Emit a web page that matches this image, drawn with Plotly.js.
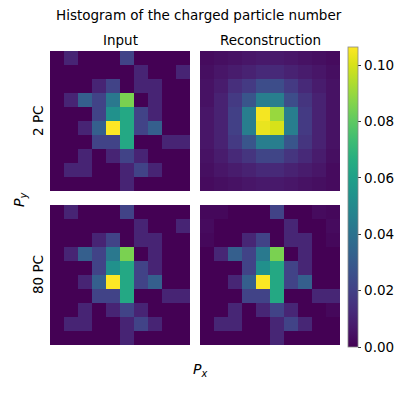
<!DOCTYPE html>
<html>
<head>
<meta charset="utf-8">
<script src="https://cdn.plot.ly/plotly-3.0.1.min.js"></script>
<style>html,body{margin:0;padding:0;background:#fff;}#plot{width:399px;height:399px;}</style>
</head>
<body>
<div id="plot"></div>
<script>
// counts (normalised by total 94)
var unit = 1 / 94;
var inputCounts = [
  [0,1,0,0,0,2,0,0,0,0],
  [0,0,0,0,0,0,1,0,0,1],
  [0,0,0,1,2,0,1,1,0,0],
  [0,1,3,2,4,8,0,1,0,0],
  [0,0,0,2,5,6,2,1,0,0],
  [0,0,1,3,10,6,2,3,0,0],
  [0,0,0,2,2,6,0,0,1,1],
  [0,0,1,0,1,2,1,0,0,0],
  [0,1,1,0,0,1,2,1,0,0],
  [0,0,0,0,0,1,0,0,0,0]
];
var input2 = inputCounts.map(function(r){return r.map(function(v){return v*unit;});});

var recon2 = [
  [0.003,0.004,0.005,0.006,0.007,0.007,0.006,0.005,0.004,0.003],
  [0.004,0.006,0.008,0.010,0.012,0.012,0.010,0.008,0.006,0.004],
  [0.005,0.008,0.014,0.018,0.025,0.025,0.018,0.012,0.008,0.005],
  [0.005,0.010,0.018,0.028,0.045,0.045,0.025,0.016,0.010,0.005],
  [0.006,0.010,0.020,0.045,0.105,0.090,0.045,0.018,0.010,0.005],
  [0.006,0.010,0.020,0.045,0.103,0.100,0.045,0.018,0.010,0.005],
  [0.006,0.010,0.018,0.028,0.045,0.045,0.028,0.016,0.010,0.005],
  [0.005,0.008,0.012,0.016,0.022,0.022,0.016,0.012,0.008,0.004],
  [0.004,0.006,0.008,0.010,0.012,0.012,0.010,0.008,0.006,0.003],
  [0.003,0.004,0.005,0.006,0.007,0.007,0.006,0.005,0.004,0.003]
];

var input80 = input2;

var recon80 = [
  [0.002,0.002,0.000,0.000,0.000,0.021,0.000,0.000,0.003,0.002],
  [0.003,0.000,0.000,0.000,0.000,0.000,0.011,0.000,0.000,0.003],
  [0.002,0.000,0.000,0.011,0.021,0.000,0.011,0.011,0.000,0.002],
  [0.000,0.011,0.032,0.021,0.043,0.085,0.000,0.011,0.000,0.000],
  [0.000,0.000,0.000,0.021,0.053,0.064,0.021,0.011,0.000,0.000],
  [0.000,0.000,0.011,0.032,0.106,0.064,0.021,0.032,0.000,0.000],
  [0.000,0.000,0.000,0.021,0.021,0.064,0.000,0.000,0.011,0.011],
  [0.000,0.000,0.011,0.000,0.011,0.021,0.011,0.000,0.000,0.002],
  [0.000,0.011,0.011,0.000,0.000,0.011,0.021,0.011,0.000,0.000],
  [0.000,0.000,0.000,0.000,0.000,0.011,0.000,0.000,0.000,0.000]
];

var colTitles = ["Input", "Reconstruction"];
var rowTitles = ["2 PC", "80 PC"];
var zMax = 10 * unit;

var W = 399, H = 399;
function px(x){return x / W;}
function py(y){return 1 - y / H;}

function hm(z, xa, ya, showScale) {
  var t = {
    type: 'heatmap', z: z, xaxis: xa, yaxis: ya,
    colorscale: 'Viridis', zmin: 0, zmax: zMax,
    showscale: showScale, hoverinfo: 'skip', xgap: 0, ygap: 0
  };
  if (showScale) {
    t.colorbar = {
      x: px(348), xanchor: 'left', xpad: 0, ypad: 0,
      y: py(347), yanchor: 'bottom', len: 300 / H, lenmode: 'fraction',
      thickness: 10, thicknessmode: 'pixels',
      outlinewidth: 0.8, outlinecolor: '#888',
      tickmode: 'linear', tick0: 0, dtick: 0.02, tickformat: '.2f',
      ticks: 'outside', ticklen: 3.5, tickwidth: 0.8, tickcolor: '#000',
      tickfont: {family: 'DejaVu Sans', size: 13.5, color: '#000'}
    };
  }
  return t;
}

var data = [
  hm(input2, 'x', 'y', true),
  hm(recon2, 'x2', 'y2', false),
  hm(input80, 'x3', 'y3', false),
  hm(recon80, 'x4', 'y4', false)
];

var colDom = [[px(50), px(190)], [px(200), px(340)]];
var rowDom = [[py(191), py(51)], [py(345), py(205)]];

function xax(dom, anchor){return {domain: dom, anchor: anchor, showticklabels: false, ticks: '', showgrid: false, zeroline: false, showline: false, range: [-0.5, 9.5]};}
function yax(dom, anchor){return {domain: dom, anchor: anchor, showticklabels: false, ticks: '', showgrid: false, zeroline: false, showline: false, range: [9.5, -0.5]};}

var font = {family: 'DejaVu Sans', size: 13.5, color: '#000'};
var lfont = {family: 'DejaVu Sans', size: 14, color: '#000'};
var layout = {
  width: W, height: H,
  margin: {l: 0, r: 0, t: 0, b: 0},
  paper_bgcolor: '#fff', plot_bgcolor: '#fff',
  showlegend: false,
  xaxis: xax(colDom[0], 'y'), yaxis: yax(rowDom[0], 'x'),
  xaxis2: xax(colDom[1], 'y2'), yaxis2: yax(rowDom[0], 'x2'),
  xaxis3: xax(colDom[0], 'y3'), yaxis3: yax(rowDom[1], 'x3'),
  xaxis4: xax(colDom[1], 'y4'), yaxis4: yax(rowDom[1], 'x4'),
  annotations: [
    {text: 'Histogram of the charged particle number', x: px(199), y: py(15), xref: 'paper', yref: 'paper', showarrow: false, font: font, xanchor: 'center', yanchor: 'middle'},
    {text: colTitles[0], x: px(120), y: py(40), xref: 'paper', yref: 'paper', showarrow: false, font: font, xanchor: 'center', yanchor: 'middle'},
    {text: colTitles[1], x: px(270), y: py(40), xref: 'paper', yref: 'paper', showarrow: false, font: font, xanchor: 'center', yanchor: 'middle'},
    {text: rowTitles[0], x: px(38), y: py(121), xref: 'paper', yref: 'paper', showarrow: false, font: font, textangle: -90, xanchor: 'center', yanchor: 'middle'},
    {text: rowTitles[1], x: px(38), y: py(275), xref: 'paper', yref: 'paper', showarrow: false, font: font, textangle: -90, xanchor: 'center', yanchor: 'middle'},
    {text: '<i>P</i><sub><i>y</i></sub>', x: px(20), y: py(200), xref: 'paper', yref: 'paper', showarrow: false, font: lfont, textangle: -90, xanchor: 'center', yanchor: 'middle'},
    {text: '<i>P</i><sub><i>x</i></sub>', x: px(200), y: py(370), xref: 'paper', yref: 'paper', showarrow: false, font: lfont, xanchor: 'center', yanchor: 'middle'}
  ]
};

Plotly.newPlot('plot', data, layout, {staticPlot: true, displayModeBar: false});
</script>
</body>
</html>
